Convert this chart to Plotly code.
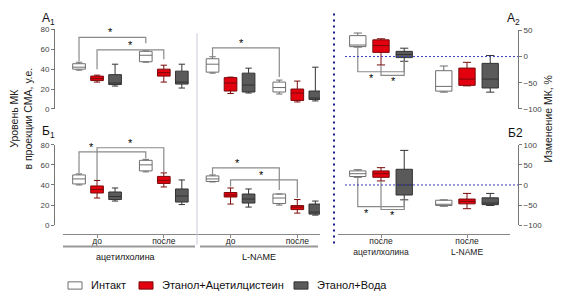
"""Уровень МК в проекции СМА: box plots, panels A1/Б1 and A2/Б2."""

import plotly.graph_objects as go

# groups (x categories) and series
LEFT_CATS = ["до", "после", "до", "после"]
RIGHT_CATS = ["после<br>ацетилхолина", "после<br>L-NAME"]
SERIES = ["Интакт", "Этанол+Ацетилцистеин", "Этанол+Вода"]

# box stats per category: (min, q1, median, q3, max)
A1_INTACT = [(39, 40, 42, 45.5, 47), (47, 47.5, 54, 58, 58.5), (36, 37, 45, 50.5, 52.5), (15, 17, 21.5, 27, 29)]
A1_NAC = [(27, 28.5, 30.5, 33, 34), (27, 33, 36.5, 40, 44), (15.5, 18, 26, 31.5, 32), (7, 8.5, 16, 20, 28)]
A1_WATER = [(23, 24.5, 26, 34.5, 45), (21, 25, 27, 38, 45), (16, 17, 24, 36, 41), (8, 9.5, 11, 18, 42)]

B1_INTACT = [(40, 41, 46, 50, 51), (53, 54, 60, 64.5, 65.5), (43, 43.5, 46, 49, 50), (20, 21.5, 27, 31, 31)]
B1_NAC = [(27, 32, 35.5, 39, 44.5), (38, 41.5, 44.5, 48.5, 52), (21, 28, 30, 32.5, 37), (12, 15.5, 18, 19.5, 25.5)]
B1_WATER = [(24, 25.5, 28.5, 33, 37), (20.5, 23, 29, 36, 45), (18, 22, 26, 31, 36), (10, 11, 13, 21, 24)]

A2_INTACT = [(18, 19, 22, 40, 45), (-68, -66, -57, -27, -18)]
A2_NAC = [(-16, 8, 21, 32, 34), (-56, -55, -43, -22, -11)]
A2_WATER = [(-9, -2, 4, 10, 16), (-68, -60, -43, -13, 2)]

B2_INTACT = [(19, 21, 28, 35, 38), (-53, -51, -48, -38, -37)]
B2_NAC = [(10, 19, 28, 35, 43), (-59, -47, -41, -35, -21)]
B2_WATER = [(-37, -25, 0, 39, 86), (-51, -49, -45, -32, -21)]

# significance brackets: (cat_l, series_l, cat_r, series_r, y_bar, y_end_l, y_end_r, star_at)
A1_BRACKETS = [(0, 0, 1, 0, 72, 48, 66, 0.47), (0, 1, 1, 1, 59.5, 40, 50, 0.5), (2, 0, 3, 0, 61.5, 53, 32, 0.44)]
B1_BRACKETS = [(0, 0, 1, 0, 73, 52, 66.5, 0.18), (0, 1, 1, 1, 77, 45, 53, 0.5),
               (2, 0, 3, 0, 57, 51, 35, 0.38), (2, 1, 3, 1, 45, 38.5, 27, 0.46)]
A2_BRACKETS = [(0, 0, 0, 2, -29, 18, -9, 0.3), (0, 1, 0, 2, -36, -16, -9, 0.54)]
B2_BRACKETS = [(0, 0, 0, 2, -54, 19, -37, 0.19), (0, 1, 0, 2, -61, 10, -37, 0.5)]

# the page body has an 8px margin, so the figure is drawn 16px smaller and
# positions below are given in window pixels, shifted by that margin
PAGE_W, PAGE_H, PAD = 564, 306, 8
W, H = PAGE_W - 2 * PAD, PAGE_H - 2 * PAD
FONT = "Arial, Liberation Sans, sans-serif"
OFFSET = [-0.27, 0, 0.27]
FILLS = ["#ffffff", "#e3000f", "#5a5a5a"]
LINES = ["#6e6e6e", "#7a0a0a", "#333333"]
BRACKET = "#8a8a8a"
NAVY = "#1c1c8c"


def px_x(p):
    return (p - PAD) / W


def px_y(p):
    return 1 - (p - PAD) / H


fig = go.Figure()


def add_boxes(groups, xa, ya):
    for s, stats in enumerate(groups):
        for c, (lo, q1, med, q3, hi) in enumerate(stats):
            fig.add_trace(go.Box(
                x=[c + OFFSET[s]], q1=[q1], median=[med], q3=[q3],
                lowerfence=[lo], upperfence=[hi], width=0.19, whiskerwidth=0.5,
                fillcolor=FILLS[s], line=dict(color=LINES[s], width=1),
                xaxis=xa, yaxis=ya, showlegend=False, hoverinfo="skip",
            ))


def add_brackets(brackets, xa, ya, below=False):
    for cl, sl, cr, sr, yb, yl, yr, star in brackets:
        xl, xr = cl + OFFSET[sl], cr + OFFSET[sr]
        fig.add_trace(go.Scatter(
            x=[xl, xl, xr, xr], y=[yl, yb, yb, yr], mode="lines",
            line=dict(color=BRACKET, width=1.2), xaxis=xa, yaxis=ya,
            showlegend=False, hoverinfo="skip",
        ))
        fig.add_annotation(
            x=xl + (xr - xl) * star, y=yb, xref=xa, yref=ya, text="*",
            showarrow=False, font=dict(family=FONT, size=11, color="#000"),
            xanchor="center", yanchor="top" if below else "bottom", yshift=2 if below else -3,
        )


add_boxes([A1_INTACT, A1_NAC, A1_WATER], "x", "y")
add_boxes([B1_INTACT, B1_NAC, B1_WATER], "x2", "y2")
add_boxes([A2_INTACT, A2_NAC, A2_WATER], "x3", "y3")
add_boxes([B2_INTACT, B2_NAC, B2_WATER], "x4", "y4")
add_brackets(A1_BRACKETS, "x", "y")
add_brackets(B1_BRACKETS, "x2", "y2")
add_brackets(A2_BRACKETS, "x3", "y3", below=True)
add_brackets(B2_BRACKETS, "x4", "y4", below=True)

ytick_font = dict(family=FONT, size=8, color="#444")
xtick_font = dict(family=FONT, size=8.5, color="#222")
yax = dict(showgrid=False, zeroline=False, showline=True, linecolor="#777", linewidth=1,
           ticks="outside", ticklen=3, tickcolor="#777", tickfont=ytick_font, anchor="free")
xax = dict(showgrid=False, zeroline=False, showline=True, linecolor="#888", linewidth=1,
           ticks="outside", ticklen=3, tickcolor="#888", tickfont=xtick_font, anchor="free",
           ticklabelstandoff=-4)
left_dom = [px_x(63), px_x(320)]
right_dom = [px_x(338), px_x(510)]

fig.update_layout(
    width=W, height=H, margin=dict(l=0, r=0, t=0, b=0),
    plot_bgcolor="white", paper_bgcolor="white", font=dict(family=FONT),
    xaxis=dict(domain=left_dom, range=[-0.51, 3.34], visible=False, anchor="y"),
    yaxis=dict(yax, domain=[px_y(108), px_y(26)], range=[0, 80], tickvals=[0, 20, 40, 60, 80],
               position=px_x(54)),
    xaxis2=dict(xax, domain=left_dom, range=[-0.51, 3.34], tickvals=list(range(len(LEFT_CATS))),
                ticktext=LEFT_CATS, position=px_y(237)),
    yaxis2=dict(yax, domain=[px_y(228), px_y(145)], range=[0, 80], tickvals=[0, 20, 40, 60, 80],
                position=px_x(54)),
    xaxis3=dict(domain=right_dom, range=[-0.5, 1.5], visible=False, anchor="y3"),
    yaxis3=dict(yax, domain=[px_y(108), px_y(27)], range=[-100, 50], tickvals=[-100, -50, 0, 50],
                side="right", position=px_x(518)),
    xaxis4=dict(xax, domain=right_dom, range=[-0.5, 1.5], tickvals=list(range(len(RIGHT_CATS))),
                ticktext=RIGHT_CATS, position=px_y(237)),
    yaxis4=dict(yax, domain=[px_y(228), px_y(145)], range=[-100, 100],
                tickvals=[-100, -50, 0, 50, 100], side="right", position=px_x(518)),
)

shapes = [
    # separator between acetylcholine and L-NAME
    dict(type="line", xref="paper", yref="paper", x0=px_x(197), x1=px_x(197), y0=px_y(248), y1=px_y(30),
         line=dict(color="#c8cbdc", width=1)),
    # blue dotted divider
    dict(type="line", xref="paper", yref="paper", x0=px_x(334), x1=px_x(334), y0=px_y(247), y1=px_y(9),
         line=dict(color=NAVY, width=2, dash="2px,4px")),
    # group underlines
    dict(type="line", xref="paper", yref="paper", x0=px_x(63), x1=px_x(195), y0=px_y(250), y1=px_y(250),
         line=dict(color="#999", width=2)),
    dict(type="line", xref="paper", yref="paper", x0=px_x(200), x1=px_x(318), y0=px_y(250), y1=px_y(250),
         line=dict(color="#999", width=2)),
]
for ya in ["y3", "y4"]:
    shapes.append(dict(type="line", xref="paper", yref=ya, x0=px_x(345), x1=px_x(518), y0=0, y1=0,
                       line=dict(color="#3b3bb0", width=1, dash="2px,2px")))

# legend drawn by hand
legend_x = [68, 139, 294]
for s, name in enumerate(SERIES):
    x0 = legend_x[s]
    shapes.append(dict(type="rect", xref="paper", yref="paper", x0=px_x(x0), x1=px_x(x0 + 14),
                       y0=px_y(294), y1=px_y(286.5), fillcolor=FILLS[s],
                       line=dict(color=LINES[s], width=1)))
    fig.add_annotation(x=px_x(x0 + 21), y=px_y(290), xref="paper", yref="paper", text=name,
                       xanchor="left", yanchor="middle", showarrow=False,
                       font=dict(family=FONT, size=11, color="#111"))
fig.update_layout(shapes=shapes)

labels = [
    ("А<sub>1</sub>", 48, 15, 12), ("Б<sub>1</sub>", 48, 132, 12),
    ("А<sub>2</sub>", 513, 15, 12), ("Б2", 515, 133, 12),
    ("ацетилхолина", 126, 261, 9), ("L-NAME", 259, 261, 9),
]
for text, x, y, size in labels:
    fig.add_annotation(x=px_x(x), y=px_y(y), xref="paper", yref="paper", text=text, showarrow=False,
                       xanchor="center", yanchor="middle", font=dict(family=FONT, size=size, color="#111"))

fig.add_annotation(x=px_x(21), y=px_y(118), xref="paper", yref="paper", textangle=-90,
                   text="Уровень МК<br>в проекции СМА, у.е.", showarrow=False,
                   xanchor="center", yanchor="middle",
                   font=dict(family=FONT, size=10.5, color="#222"))
fig.add_annotation(x=px_x(548), y=px_y(118), xref="paper", yref="paper", textangle=-90,
                   text="Изменение МК, %", showarrow=False,
                   xanchor="center", yanchor="middle",
                   font=dict(family=FONT, size=10.5, color="#222"))

fig.write_html("out.html")
